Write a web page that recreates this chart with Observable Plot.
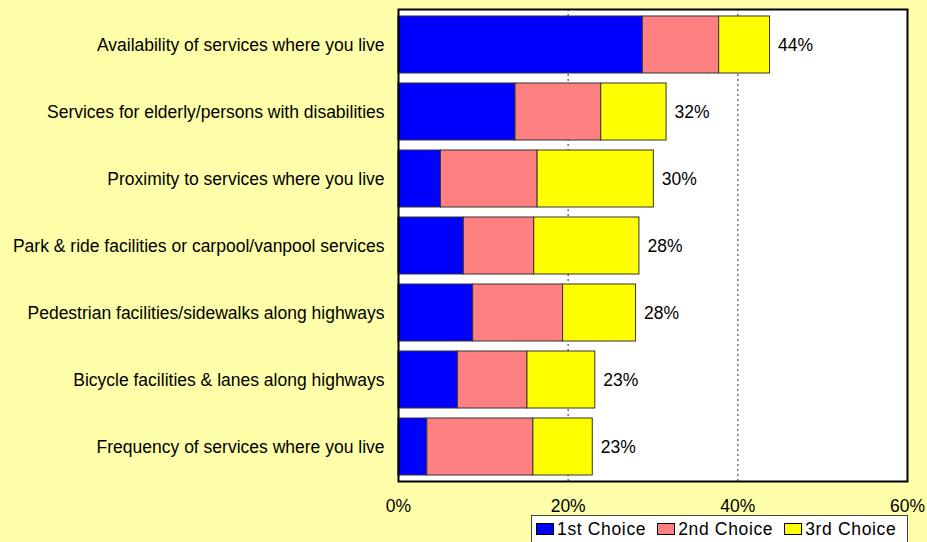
<!DOCTYPE html>
<html>
<head>
<meta charset="utf-8">
<script src="https://cdn.jsdelivr.net/npm/d3@7"></script>
<script src="https://cdn.jsdelivr.net/npm/@observablehq/plot@0.6"></script>
<style>
  html, body { margin: 0; padding: 0; background: #FFFFAA; overflow: hidden; }
  #wrap { position: relative; width: 927px; height: 542px; font-family: "Liberation Sans", Arial, sans-serif; }
  #chart svg { display: block; }
  #legend {
    position: absolute; left: 531px; top: 515px; width: 377px; height: 34px;
    background: #fff; border: 1px solid #444; box-sizing: border-box;
    display: flex; align-items: flex-start; padding-left: 4px; padding-top: 3px;
    font-size: 17.5px; line-height: 20px; letter-spacing: 0.65px; color: #000; white-space: nowrap;
  }
  #legend .item { display: flex; align-items: center; margin-right: 11px; }
  #legend .sw { width: 16px; height: 10px; border: 1px solid #000; margin-right: 3px; }
</style>
</head>
<body>
<div id="wrap">
  <div id="chart"></div>
  <div id="legend"></div>
</div>
<script>
const categories = [
  "Availability of services where you live",
  "Services for elderly/persons with disabilities",
  "Proximity to services where you live",
  "Park & ride facilities or carpool/vanpool services",
  "Pedestrian facilities/sidewalks along highways",
  "Bicycle facilities & lanes along highways",
  "Frequency of services where you live"
];
const seriesNames = ["1st Choice", "2nd Choice", "3rd Choice"];
const firstChoice  = [28.8, 13.8, 5.0, 7.7, 8.8, 7.0, 3.4];
const secondChoice = [9.0, 10.1, 11.4, 8.3, 10.6, 8.2, 12.5];
const thirdChoice  = [6.0, 7.7, 13.7, 12.4, 8.6, 8.0, 7.0];
const seriesColors = ["#0000FF", "#FF8080", "#FFFF00"];
const xTicks = [0, 20, 40, 60];
const gridLines = [20, 40];

const seriesValues = [firstChoice, secondChoice, thirdChoice];
const data = [];
categories.forEach((c, i) => {
  seriesNames.forEach((s, j) => data.push({category: c, series: s, value: seriesValues[j][i]}));
});
const totals = categories.map((c, i) => {
  const t = firstChoice[i] + secondChoice[i] + thirdChoice[i];
  return {category: c, total: t, label: Math.round(t) + "%"};
});

const FONT = "Liberation Sans, Arial, sans-serif";

const chart = Plot.plot({
  width: 927,
  height: 542,
  marginLeft: 398,
  marginRight: 20,
  marginTop: 9,
  marginBottom: 61,
  style: {background: "transparent", fontFamily: FONT, fontSize: "17.5px", color: "#000", overflow: "visible"},
  x: {domain: [0, 60]},
  y: {domain: categories, paddingInner: 0.15, paddingOuter: 0.075},
  color: {domain: seriesNames, range: seriesColors},
  marks: [
    Plot.frame({fill: "white", stroke: "none"}),
    Plot.ruleX(gridLines, {stroke: "#707070", strokeWidth: 1.5, strokeDasharray: "2,3"}),
    Plot.barX(data, {x: "value", y: "category", fill: "series", stroke: "#333", strokeWidth: 1}),
    Plot.text(totals, {x: "total", y: "category", text: "label", dx: 8, textAnchor: "start", fontSize: 17.5, fill: "#000"}),
    Plot.frame({stroke: "#000", strokeWidth: 2}),
    Plot.axisX({ticks: xTicks, tickFormat: d => d + "%", tickSize: 0, tickPadding: 18, label: null, fontSize: 17.5}),
    Plot.axisY({tickSize: 0, tickPadding: 14, label: null, fontSize: 17.5})
  ]
});
document.getElementById("chart").append(chart);

const legend = document.getElementById("legend");
seriesNames.forEach((s, j) => {
  const item = document.createElement("div");
  item.className = "item";
  const sw = document.createElement("div");
  sw.className = "sw";
  sw.style.background = seriesColors[j];
  const label = document.createElement("span");
  label.textContent = s;
  item.append(sw, label);
  legend.append(item);
});
</script>
</body>
</html>
